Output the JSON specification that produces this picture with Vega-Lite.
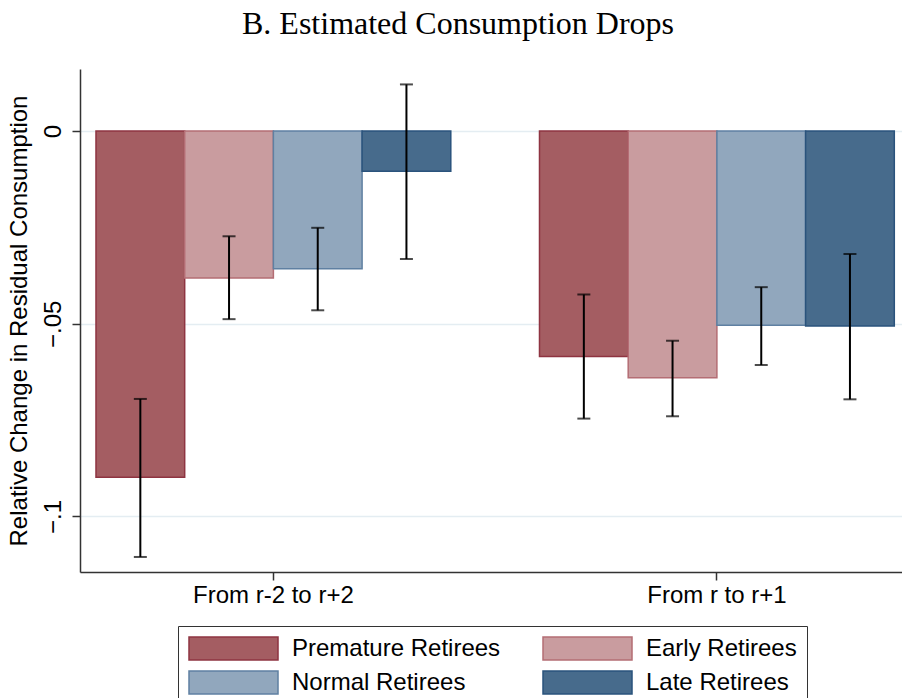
{
  "$schema": "https://vega.github.io/schema/vega-lite/v6.json",
  "autosize": {"type": "none"},
  "padding": {"left": 80, "top": 69, "right": 0, "bottom": 130},
  "width": 822,
  "height": 503,
  "background": "white",
  "title": {
    "text": "B. Estimated Consumption Drops",
    "font": "Liberation Serif",
    "fontSize": 32,
    "fontWeight": "normal",
    "color": "black",
    "anchor": "middle",
    "baseline": "alphabetic",
    "offset": 3,
    "dx": -33
  },
  "config": {
    "view": {"stroke": null},
    "axis": {"labelFont": "Liberation Sans", "titleFont": "Liberation Sans", "labelColor": "black", "titleColor": "black"},
    "legend": {"labelFont": "Liberation Sans"}
  },
  "data": {
    "values": [
      {"period": "From r-2 to r+2", "group": "Premature Retirees", "value": -0.0898, "lo": -0.1105, "hi": -0.0695},
      {"period": "From r-2 to r+2", "group": "Early Retirees", "value": -0.0381, "lo": -0.0488, "hi": -0.0273},
      {"period": "From r-2 to r+2", "group": "Normal Retirees", "value": -0.0357, "lo": -0.0465, "hi": -0.0251},
      {"period": "From r-2 to r+2", "group": "Late Retirees", "value": -0.0104, "lo": -0.0332, "hi": 0.0121},
      {"period": "From r to r+1", "group": "Premature Retirees", "value": -0.0585, "lo": -0.0746, "hi": -0.0424},
      {"period": "From r to r+1", "group": "Early Retirees", "value": -0.0640, "lo": -0.0740, "hi": -0.0544},
      {"period": "From r to r+1", "group": "Normal Retirees", "value": -0.0504, "lo": -0.0607, "hi": -0.0405},
      {"period": "From r to r+1", "group": "Late Retirees", "value": -0.0506, "lo": -0.0696, "hi": -0.0319}
    ]
  },
  "encoding": {
    "x": {
      "field": "period",
      "type": "nominal",
      "sort": null,
      "scale": {"paddingInner": 0.2, "paddingOuter": 0.0267, "align": 0.675},
      "axis": {
        "title": null,
        "labelAngle": 0,
        "labelFontSize": 24,
        "labelPadding": 3,
        "tickSize": 8,
        "tickColor": "#333",
        "tickWidth": 1.5,
        "domainColor": "#333",
        "domainWidth": 1.5,
        "grid": false
      }
    },
    "xOffset": {
      "field": "group",
      "type": "nominal",
      "sort": ["Premature Retirees", "Early Retirees", "Normal Retirees", "Late Retirees"],
      "scale": {"paddingInner": 0, "paddingOuter": 0}
    }
  },
  "layer": [
    {
      "mark": {"type": "bar", "strokeWidth": 1.5, "fillOpacity": 1},
      "encoding": {
        "y": {
          "field": "value",
          "type": "quantitative",
          "stack": null,
          "scale": {"domain": [-0.1144, 0.0161], "nice": false, "zero": false},
          "axis": {
            "title": "Relative Change in Residual Consumption",
            "titleFontSize": 24,
            "titleFontWeight": "normal",
            "titlePadding": 10,
            "values": [0, -0.05, -0.1],
            "labelExpr": "datum.value == 0 ? '0' : replace(format(datum.value, '.2~f'), '0.', '.')",
            "labelAngle": -90,
            "labelAlign": "center",
            "labelBaseline": "bottom",
            "labelFontSize": 24,
            "labelPadding": 7,
            "tickSize": 8,
            "tickColor": "#333",
            "tickWidth": 1.5,
            "domainColor": "#333",
            "domainWidth": 1.5,
            "grid": true,
            "gridColor": "#e4edf2",
            "gridWidth": 1.5
          }
        },
        "fill": {
          "field": "group",
          "type": "nominal",
          "sort": ["Premature Retirees", "Early Retirees", "Normal Retirees", "Late Retirees"],
          "scale": {"domain": ["Premature Retirees", "Early Retirees", "Normal Retirees", "Late Retirees"], "range": ["#a45d62", "#c99c9f", "#91a7bd", "#476b8c"]},
          "legend": {
            "title": null,
            "orient": "none",
            "direction": "horizontal",
            "legendX": 98,
            "legendY": 557,
            "columns": 2,
            "columnPadding": 39,
            "rowPadding": 5,
            "padding": 10,
            "strokeColor": "#333",
            "fillColor": "white",
            "symbolType": "M-1,-1H6.74V1H-1Z",
            "symbolSize": 529,
            "symbolStrokeWidth": 1.5,
            "labelFontSize": 24,
            "labelOffset": 79,
            "labelColor": "black",
            "labelLimit": 400
          }
        },
        "stroke": {
          "field": "group",
          "type": "nominal",
          "sort": ["Premature Retirees", "Early Retirees", "Normal Retirees", "Late Retirees"],
          "scale": {"domain": ["Premature Retirees", "Early Retirees", "Normal Retirees", "Late Retirees"], "range": ["#8e3441", "#b46d74", "#5f80a2", "#2a537c"]},
          "legend": null
        }
      }
    },
    {
      "mark": {"type": "rule", "color": "black", "strokeWidth": 2},
      "encoding": {
        "y": {"field": "lo", "type": "quantitative"},
        "y2": {"field": "hi"}
      }
    },
    {
      "mark": {"type": "tick", "color": "black", "size": 13, "thickness": 2, "orient": "horizontal"},
      "encoding": {"y": {"field": "lo", "type": "quantitative"}}
    },
    {
      "mark": {"type": "tick", "color": "black", "size": 13, "thickness": 2, "orient": "horizontal"},
      "encoding": {"y": {"field": "hi", "type": "quantitative"}}
    }
  ]
}
